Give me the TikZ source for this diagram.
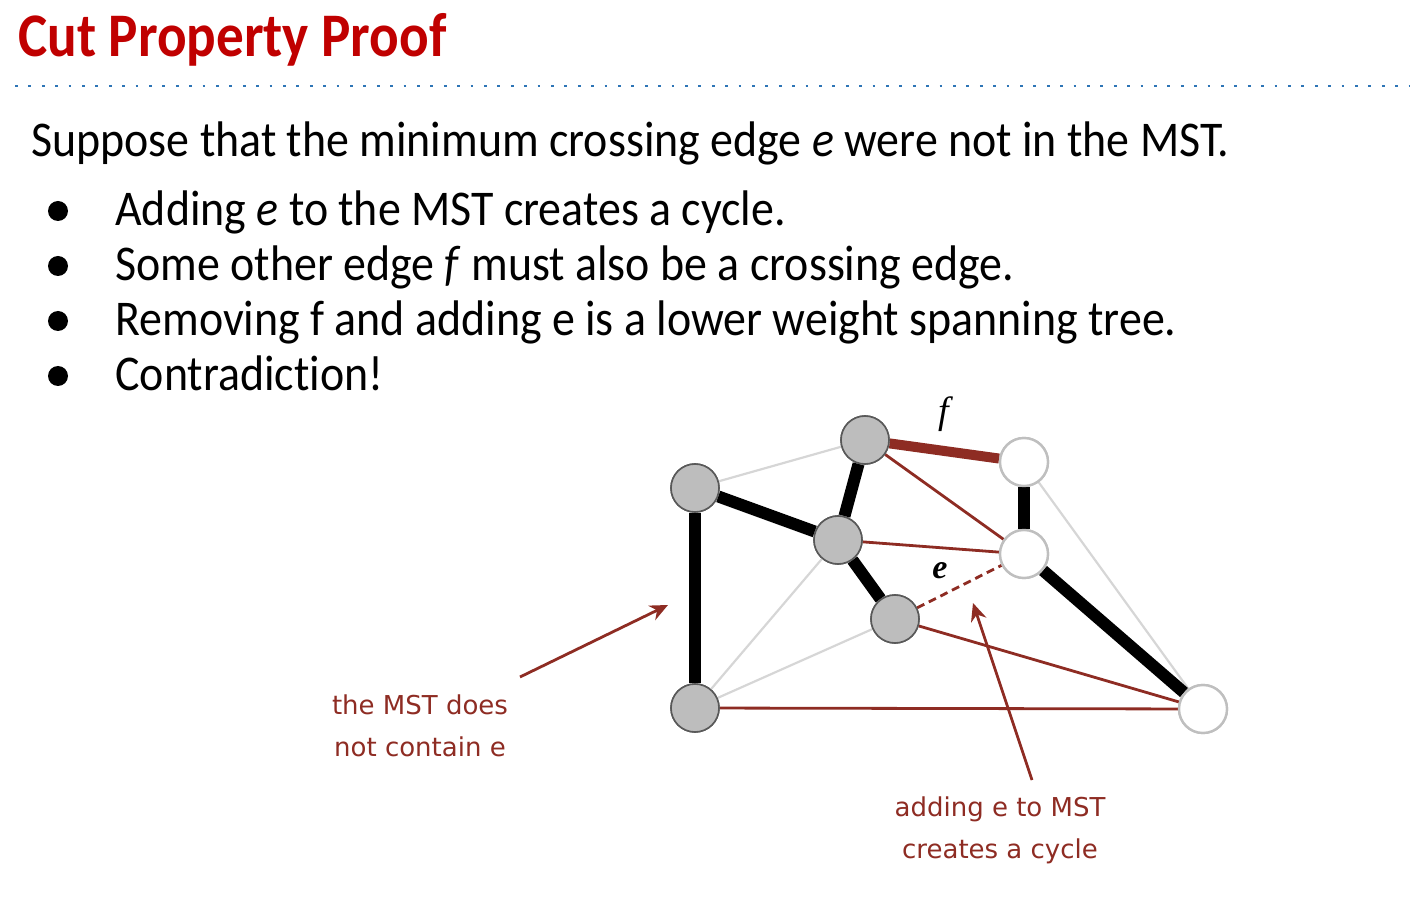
\documentclass[tikz,border=0pt]{standalone}
\usepackage{fontspec}
\setmainfont{Carlito}[FakeStretch=0.918,Ligatures=NoCommon]
\newfontfamily\titlefont{Carlito}[FakeStretch=0.89]
\newfontfamily\notefont{DejaVu Sans}
\newfontfamily\labfont{Liberation Serif}
\usepackage{tikz}
\usetikzlibrary{arrows.meta,positioning}
\definecolor{TitleRed}{HTML}{C00000}
\definecolor{EdgeRed}{HTML}{8E2C23}
\definecolor{DotBlue}{HTML}{2E75B6}
\definecolor{VtxGray}{HTML}{BDBDBD}
\definecolor{LightEdge}{HTML}{D6D6D6}

\begin{document}
\begin{tikzpicture}[
  x=0.5pt,y=-0.5pt,
  inv/.style={circle,draw=black!65,fill=VtxGray,line width=0.8pt,minimum size=24pt,inner sep=0pt},
  outv/.style={circle,draw=black!25,fill=white,line width=1.2pt,minimum size=24pt,inner sep=0pt},
  mst/.style={line width=6pt,black},
  other/.style={line width=1.1pt,LightEdge},
  cross/.style={line width=1.4pt,EdgeRed},
  body/.style={anchor=base west,font=\fontsize{25}{30}\selectfont,inner sep=0pt},
  note/.style={align=center,text=EdgeRed,font=\notefont\fontsize{13}{21}\selectfont},
  arrow/.style={-{Stealth[length=9pt,width=8pt]},line width=1.4pt,EdgeRed}
]
\useasboundingbox (0,0) rectangle (1419,903);

% title and rule
\node[anchor=base west,inner sep=0pt,text=TitleRed,font=\titlefont\fontsize{31}{36}\selectfont\bfseries] (title) at (18,57) {Cut Property Proof};
\draw[DotBlue,line width=1.4pt,dash pattern=on 1.4pt off 5.3pt] (15,86) -- (1410,86);

% text
\node[body] (intro) at (31,157) {Suppose that the minimum crossing edge \textit{e} were not in the MST.};
\foreach \y/\txt [count=\i] in {226/{Adding \textit{e} to the MST creates a cycle.},
    281/{Some other edge \textit{f} must also be a crossing edge.},
    336/{Removing f and adding e is a lower weight spanning tree.},
    391/{Contradiction!}}{
  \fill (58,\y-15) circle (5pt);
  \node[body] (item\i) at (115,\y) {\txt};
}

% vertices
\node[inv] (a) at (695,488) {};
\node[inv] (b) at (865,440) {};
\node[inv] (c) at (838,540) {};
\node[inv] (d) at (895,619) {};
\node[inv] (p) at (695,708) {};
\node[outv] (q) at (1024,462) {};
\node[outv] (r) at (1024,554) {};
\node[outv] (s) at (1203,709) {};

% edges
\draw[other] (a) -- (b);
\draw[other] (c) -- (p);
\draw[other] (d) -- (p);
\draw[other] (q) -- (s);
\draw[mst] (a) -- (c);
\draw[mst] (a) -- (p);
\draw[mst] (b) -- (c);
\draw[mst] (c) -- (d);
\draw[mst] (q) -- (r);
\draw[mst] (r) -- (s);
\draw[EdgeRed,line width=5pt] (b) -- (q);
\draw[cross] (b) -- (r);
\draw[cross] (c) -- (r);
\draw[cross] (d) -- (s);
\draw[cross] (p) -- (s);
\draw[cross,dash pattern=on 4pt off 2.5pt] (d) -- (r);

% redraw vertices on top
\foreach \v in {a,b,c,d,p}{\node[inv] at (\v) {};}
\foreach \v in {q,r,s}{\node[outv] at (\v) {};}

\node[font=\labfont\fontsize{19}{19}\selectfont\itshape] (flabel) at (944,414) {f};
\node[font=\labfont\fontsize{17}{17}\selectfont\bfseries\itshape] (elabel) at (940,571) {e};

% notes
\node[note] (notmst) at (420,726) {the MST does\\not contain e};
\node[note] (cycle) at (1000,830) {adding e to MST\\creates a cycle};
\coordinate (tailA) at (520,677);
\coordinate (tipA) at (668,605);
\coordinate (tailB) at (1032,780);
\coordinate (tipB) at (973,603);
\draw[arrow] (tailA) -- (tipA);
\draw[arrow] (tailB) -- (tipB);
\end{tikzpicture}
\end{document}
